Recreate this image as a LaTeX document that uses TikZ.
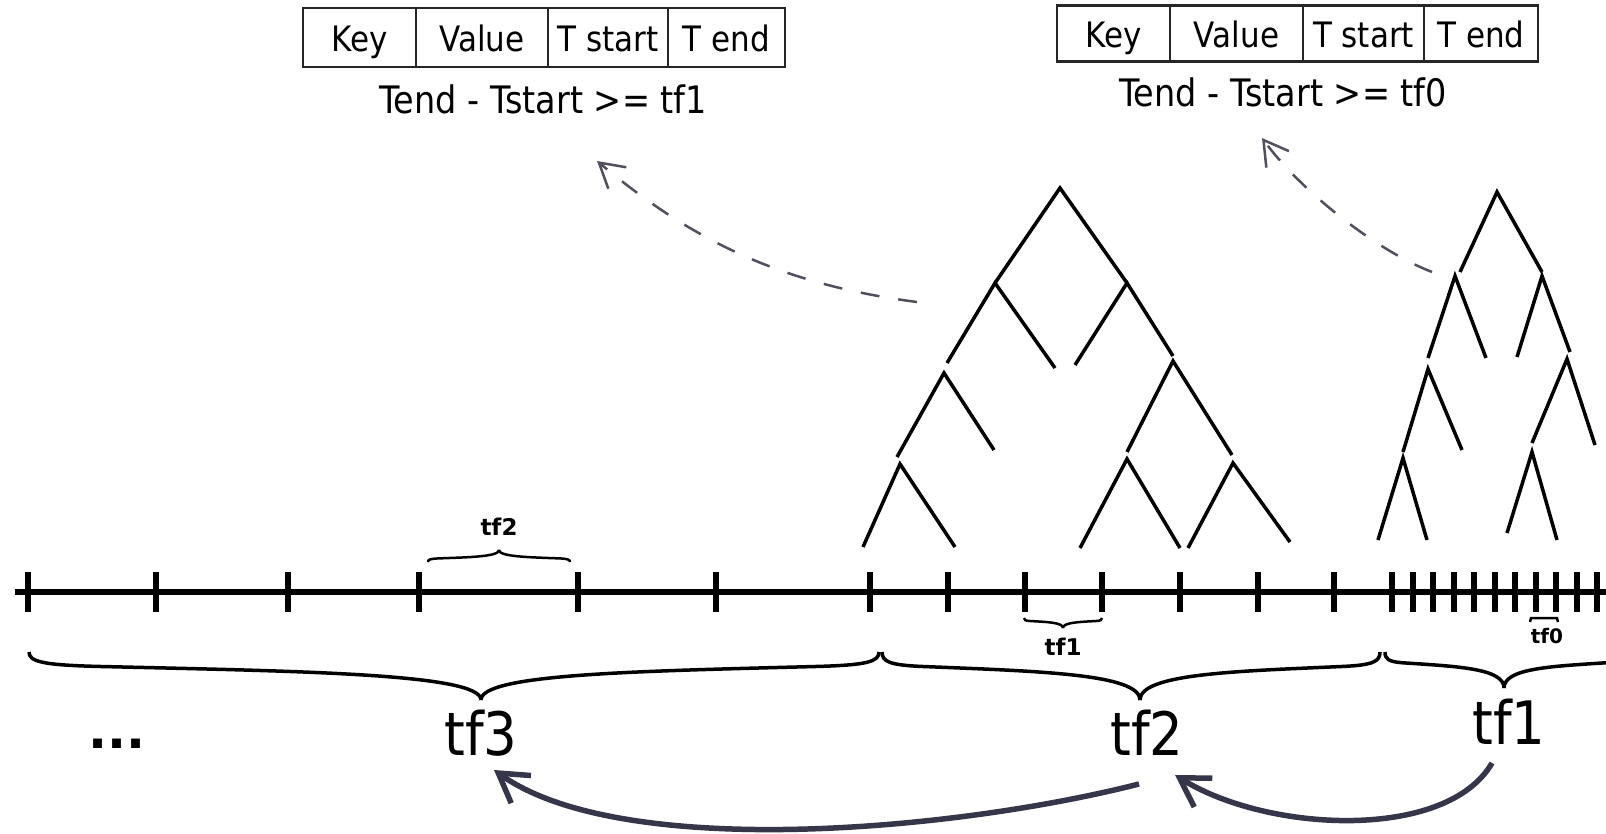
\documentclass[tikz,border=0pt]{standalone}
\usepackage{fontspec}
\usepackage{graphicx}
\setmainfont{DejaVu Sans}
\usetikzlibrary{arrows.meta}
\definecolor{dashgray}{HTML}{50505E}
\definecolor{arrownavy}{HTML}{36364A}
\def\hbr{(0,0) .. controls (0,0.2) and (0.03,0.27) .. (0.15,0.3) .. controls (0.6,0.4) and (1,0.45) .. (1,1)}
\newcommand\vst[1]{\scalebox{1}[1.13]{#1}}
\begin{document}
\begin{tikzpicture}[x=1pt,y=-1pt,
  cell/.style={draw=black!85, line width=2.5pt, inner sep=0pt, font=\fontsize{31}{36}\selectfont, text height=35pt, text depth=7pt},
  cond/.style={inner sep=0pt, font=\fontsize{33.5}{40}\selectfont},
  big/.style={inner sep=0pt, font=\fontsize{53}{62}\selectfont},
  smalllab/.style={inner sep=0pt, font=\bfseries\fontsize{23}{28}\selectfont},
  treeline/.style={line width=3.5pt, line cap=butt},
  tick/.style={line width=6pt},
  bracestyle/.style={line width=3.5pt},
  sbrace/.style={line width=2.5pt},
  dasharrow/.style={dashgray, line width=2.5pt, dash pattern=on 19pt off 19pt, -{Straight Barb[length=24pt,width=28pt]}},
  solidarrow/.style={arrownavy, line width=5.5pt, -{Straight Barb[length=28pt,width=34pt]}}
]
\useasboundingbox (0,0) rectangle (1606,834);

% ---- table 1 ----
\node[cell, minimum width=113pt, minimum height=59pt] (k1) at (359.5,37.5) {\vst{Key}};
\node[cell, minimum width=132pt, minimum height=59pt] (v1) at (482,37.5) {\vst{Value}};
\node[cell, minimum width=120pt, minimum height=59pt] (s1) at (608,37.5) {\vst{T start}};
\node[cell, minimum width=117pt, minimum height=59pt] (e1) at (726.5,37.5) {\vst{T end}};
\node[cond] (c1) at (543,99) {\vst{Tend - Tstart >= tf1}};

% ---- table 2 ----
\node[cell, minimum width=113pt, minimum height=56pt] (k2) at (1113.5,33.5) {\vst{Key}};
\node[cell, minimum width=133pt, minimum height=56pt] (v2) at (1236.5,33.5) {\vst{Value}};
\node[cell, minimum width=121pt, minimum height=56pt] (s2) at (1363.5,33.5) {\vst{T start}};
\node[cell, minimum width=114pt, minimum height=56pt] (e2) at (1481,33.5) {\vst{T end}};
\node[cond] (c2) at (1283,92) {\vst{Tend - Tstart >= tf0}};

% ---- tree 1 ----
\draw[treeline] (995,283) -- (1060,188) -- (1127,283);
\draw[treeline] (947,363) -- (995,283) -- (1055,368);
\draw[treeline] (1075,365) -- (1127,283) -- (1173,356);
\draw[treeline] (897,457) -- (944,373) -- (994,450);
\draw[treeline] (1127,452) -- (1173,361) -- (1232,455);
\draw[treeline] (863,547) -- (900,464) -- (955,547);
\draw[treeline] (1080,548) -- (1127,459) -- (1180,548);
\draw[treeline] (1188,548) -- (1233,463) -- (1290,542);

% ---- tree 2 ----
\draw[treeline] (1460,272) -- (1497,192) -- (1542,272);
\draw[treeline] (1428,358) -- (1455,276) -- (1486,358);
\draw[treeline] (1517,357) -- (1542,276) -- (1570,352);
\draw[treeline] (1532,443) -- (1567,359) -- (1595,445);
\draw[treeline] (1403,452) -- (1428,369) -- (1462,450);
\draw[treeline] (1378,540) -- (1403,458) -- (1427,540);
\draw[treeline] (1507,533) -- (1532,452) -- (1557,540);

% ---- dashed arrows ----
\coordinate (d1s) at (917,302);
\coordinate (d1e) at (597,161);
\coordinate (d2s) at (1432,272);
\coordinate (d2e) at (1262,138);
\draw[dasharrow] (d1s) .. controls (778,284) and (689,238) .. (d1e);
\draw[dasharrow] (d2s) .. controls (1375,250) and (1300,190) .. (d2e);

% ---- timeline ----
\coordinate (tl0) at (15,592);
\coordinate (tl1) at (1606,592);
\draw[line width=6.5pt] (tl0) -- (tl1);
\foreach \x in {28,156,288,419,578,716,870,948,1025,1102,1180,1258,1334}
  \draw[tick] (\x,572) -- (\x,612);
\foreach \k in {0,...,10}
  \draw[tick] ({1392+20.5*\k},572) -- ({1392+20.5*\k},612);

% ---- small braces ----
\draw[sbrace, shift={(428,562)}, xscale=71, yscale=-12] \hbr;
\draw[sbrace, shift={(570,562)}, xscale=-71, yscale=-12] \hbr;
\node[smalllab] (stf2) at (499,527) {tf2};

\draw[sbrace, shift={(1024,618)}, xscale=39, yscale=10] \hbr;
\draw[sbrace, shift={(1102,618)}, xscale=-39, yscale=10] \hbr;
\node[smalllab] (stf1) at (1063,647) {tf1};

\draw[line width=2.5pt] (1530,622) -- (1531,618) -- (1557,618) -- (1558,622);
\node[smalllab, font=\bfseries\fontsize{20}{24}\selectfont] (stf0) at (1547,636) {tf0};

% ---- big braces ----
\draw[bracestyle, shift={(29,652)}, xscale=452, yscale=48] \hbr;
\draw[bracestyle, shift={(879,652)}, xscale=-398, yscale=48] \hbr;
\draw[bracestyle, shift={(882,652)}, xscale=258, yscale=48] \hbr;
\draw[bracestyle, shift={(1380,652)}, xscale=-240, yscale=48] \hbr;
\draw[bracestyle, shift={(1385,652)}, xscale=119, yscale=36] \hbr;
\draw[bracestyle, shift={(1623,652)}, xscale=-119, yscale=36] \hbr;

% ---- labels ----
\node[big] (tf3) at (481,733) {\vst{tf3}};
\node[big] (tf2) at (1147,733) {\vst{tf2}};
\node[big] (tf1) at (1509,722) {\vst{tf1}};
\node[big, font=\bfseries\fontsize{50}{60}\selectfont, anchor=base] (dots) at (117,748) {...};

% ---- solid arrows ----
\coordinate (a1s) at (1139,784);
\coordinate (a1e) at (494,770);
\coordinate (a2s) at (1492,763);
\coordinate (a2e) at (1175,775);
\draw[solidarrow] (a1s) .. controls (950,832) and (620,860) .. (a1e);
\draw[solidarrow] (a2s) .. controls (1447,841) and (1268,833) .. (a2e);
\end{tikzpicture}
\end{document}
